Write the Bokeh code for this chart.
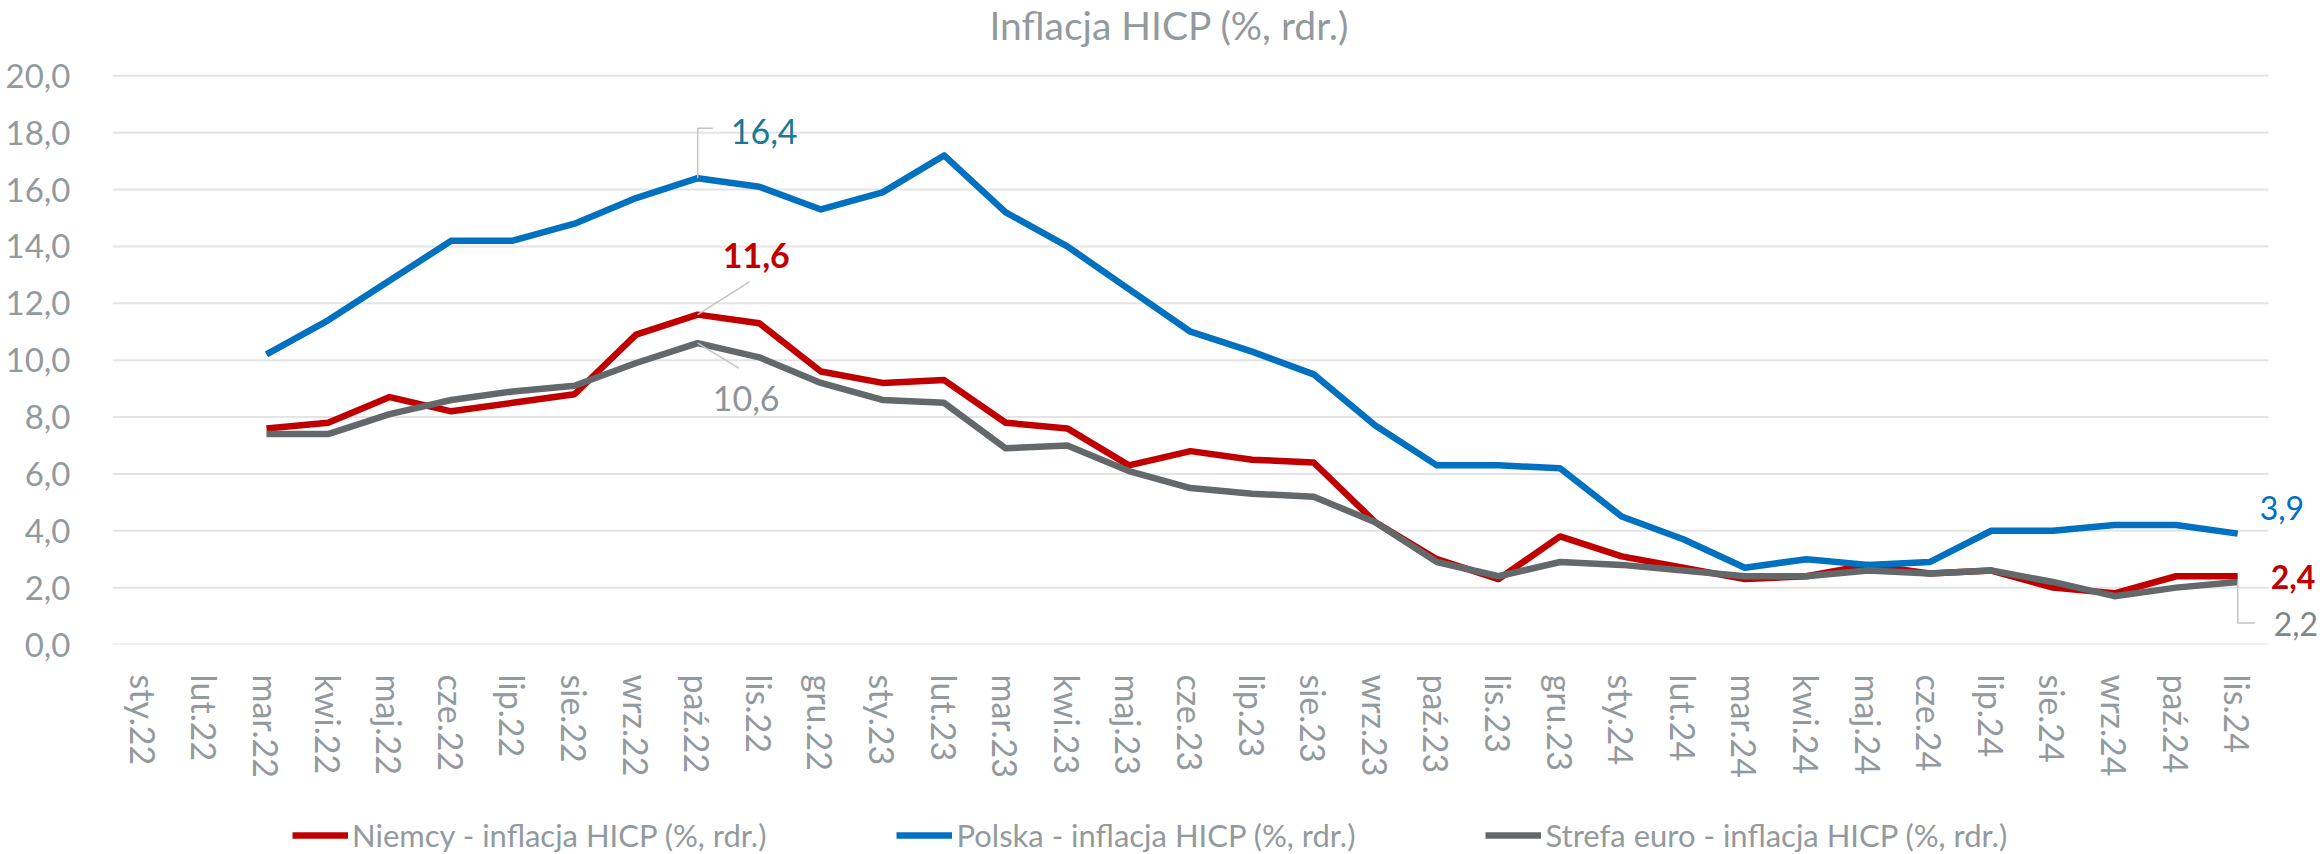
from bokeh.plotting import figure
from bokeh.layouts import column
from bokeh.models import Legend, LegendItem, Label, FixedTicker, Range1d
from bokeh.embed import file_html
from bokeh.resources import INLINE

months = ["sty.22", "lut.22", "mar.22", "kwi.22", "maj.22", "cze.22", "lip.22", "sie.22",
          "wrz.22", "paź.22", "lis.22", "gru.22", "sty.23", "lut.23", "mar.23", "kwi.23",
          "maj.23", "cze.23", "lip.23", "sie.23", "wrz.23", "paź.23", "lis.23", "gru.23",
          "sty.24", "lut.24", "mar.24", "kwi.24", "maj.24", "cze.24", "lip.24", "sie.24",
          "wrz.24", "paź.24", "lis.24"]

niemcy = [None, None, 7.6, 7.8, 8.7, 8.2, 8.5, 8.8, 10.9, 11.6, 11.3, 9.6, 9.2, 9.3, 7.8, 7.6,
          6.3, 6.8, 6.5, 6.4, 4.3, 3.0, 2.3, 3.8, 3.1, 2.7, 2.3, 2.4, 2.8, 2.5, 2.6, 2.0,
          1.8, 2.4, 2.4]
polska = [None, None, 10.2, 11.4, 12.8, 14.2, 14.2, 14.8, 15.7, 16.4, 16.1, 15.3, 15.9, 17.2, 15.2, 14.0,
          12.5, 11.0, 10.3, 9.5, 7.7, 6.3, 6.3, 6.2, 4.5, 3.7, 2.7, 3.0, 2.8, 2.9, 4.0, 4.0,
          4.2, 4.2, 3.9]
strefa = [None, None, 7.4, 7.4, 8.1, 8.6, 8.9, 9.1, 9.9, 10.6, 10.1, 9.2, 8.6, 8.5, 6.9, 7.0,
          6.1, 5.5, 5.3, 5.2, 4.3, 2.9, 2.4, 2.9, 2.8, 2.6, 2.4, 2.4, 2.6, 2.5, 2.6, 2.2,
          1.7, 2.0, 2.2]

series_names = ["Niemcy - inflacja HICP (%, rdr.)",
                "Polska - inflacja HICP (%, rdr.)",
                "Strefa euro - inflacja HICP (%, rdr.)"]

y_ticks = [0, 2, 4, 6, 8, 10, 12, 14, 16, 18, 20]
y_tick_labels = ["0,0", "2,0", "4,0", "6,0", "8,0", "10,0", "12,0", "14,0", "16,0", "18,0", "20,0"]

title_text = "Inflacja HICP (%, rdr.)"

RED = "#C00000"
BLUE = "#0070C0"
GRAY = "#63686B"
TXT = "#939A9E"
FONT = "Lato"
LW = 6.5

def nanify(v):
    return [float("nan") if a is None else a for a in v]

def fmt(v):
    return f"{v:.1f}".replace(".", ",")

n = len(months)
xs = list(range(n))

W = 2323
H_MAIN, H_LEG = 810, 44
ML = 112
FRAME_BOTTOM = 644            # px from figure top to the 0,0 gridline
PLOT_TOP = 75.3               # px from figure top to the 20,0 gridline
MB = H_MAIN - FRAME_BOTTOM
sx = 2156 / n                 # px per category
sy = (FRAME_BOTTOM - PLOT_TOP) / 20.0
x_end = -0.5 + (W - ML) / sx
y_end = FRAME_BOTTOM / sy

p = figure(width=W, height=H_MAIN, output_backend="svg", toolbar_location=None,
           x_range=Range1d(-0.5, x_end), y_range=Range1d(0, y_end),
           min_border_left=ML, min_border_right=0, min_border_top=0, min_border_bottom=MB)
p.outline_line_color = None
p.background_fill_color = "white"
p.border_fill_color = "white"

# axes
p.xaxis.ticker = FixedTicker(ticks=xs)
p.xaxis.major_label_overrides = {i: m for i, m in enumerate(months)}
p.xaxis.major_label_orientation = "vertical"
p.xaxis.axis_line_color = None
p.xaxis.major_tick_line_color = None
p.xaxis.minor_tick_line_color = None
p.xaxis.major_label_standoff = 24
p.xaxis.major_label_text_font = FONT
p.xaxis.major_label_text_font_size = "34px"
p.xaxis.major_label_text_color = TXT

p.yaxis.ticker = FixedTicker(ticks=y_ticks)
p.yaxis.major_label_overrides = {t: l for t, l in zip(y_ticks, y_tick_labels)}
p.yaxis.axis_line_color = None
p.yaxis.major_tick_line_color = None
p.yaxis.minor_tick_line_color = None
p.yaxis.major_label_standoff = 36
p.yaxis.major_label_text_font = FONT
p.yaxis.major_label_text_font_size = "33px"
p.yaxis.major_label_text_color = TXT

p.xgrid.grid_line_color = None
p.ygrid.grid_line_color = None

# horizontal gridlines at the tick values, spanning the category area
p.segment(x0=[-0.5] * len(y_ticks), x1=[n - 0.5] * len(y_ticks), y0=y_ticks, y1=y_ticks,
          line_color="#E4E4E4", line_width=2)

# series lines
r_de = p.line(xs, nanify(niemcy), line_color=RED, line_width=LW, line_join="round")
r_pl = p.line(xs, nanify(polska), line_color=BLUE, line_width=LW, line_join="round")
r_ea = p.line(xs, nanify(strefa), line_color=GRAY, line_width=LW, line_join="round")

# leader lines (data point + pixel offsets)
LC = "#C4C4C4"
i_pk = 9
i_last = n - 1
p.line([i_pk, i_pk, i_pk + 15 / sx],
       [polska[i_pk], polska[i_pk] + 50 / sy, polska[i_pk] + 50 / sy],
       line_color=LC, line_width=1.5)
p.line([i_pk, i_pk + 52 / sx], [niemcy[i_pk], niemcy[i_pk] + 33 / sy],
       line_color=LC, line_width=1.5)
p.line([i_pk, i_pk + 41 / sx], [strefa[i_pk], strefa[i_pk] - 25 / sy],
       line_color=LC, line_width=1.5)
p.line([i_last, i_last, i_last + 17 / sx],
       [strefa[i_last], strefa[i_last] - 41 / sy, strefa[i_last] - 41 / sy],
       line_color=LC, line_width=1.5)

def add_label(x, y, text, color, dx, dy, bold=False, size="34px"):
    p.add_layout(Label(x=x, y=y, text=text, x_offset=dx, y_offset=dy,
                       text_align="left", text_baseline="middle",
                       text_color=color, text_font=FONT, text_font_size=size,
                       text_font_style="bold" if bold else "normal"))

add_label(i_pk, polska[i_pk], fmt(polska[i_pk]), "#1B7896", 33, 47)
add_label(i_pk, niemcy[i_pk], fmt(niemcy[i_pk]), RED, 25, 59, bold=True)
add_label(i_pk, strefa[i_pk], fmt(strefa[i_pk]), "#8E9598", 15, -55)
add_label(i_last, polska[i_last], fmt(polska[i_last]), BLUE, 22, 26, size="32px")
add_label(i_last, niemcy[i_last], fmt(niemcy[i_last]), RED, 33, -1, bold=True, size="32px")
add_label(i_last, strefa[i_last], fmt(strefa[i_last]), "#80878B", 36, -42, size="32px")

# title
p.add_layout(Label(x=-0.5 + (1169 - ML) / sx, y=20, y_offset=51, text=title_text,
                   text_align="center", text_baseline="middle",
                   text_color=TXT, text_font=FONT, text_font_size="39px"))

# legend strip below the chart (its renderers repeat the series, out of view)
lf = figure(width=W, height=H_LEG, output_backend="svg", toolbar_location=None,
            x_range=Range1d(-1000, -999), y_range=Range1d(0, 1),
            x_axis_type=None, y_axis_type=None,
            min_border_left=0, min_border_right=0, min_border_top=0, min_border_bottom=0)
lf.outline_line_color = None
lf.xgrid.visible = False
lf.ygrid.visible = False
lr_de = lf.line(xs, nanify(niemcy), line_color=RED, line_width=LW)
lr_pl = lf.line(xs, nanify(polska), line_color=BLUE, line_width=LW)
lr_ea = lf.line(xs, nanify(strefa), line_color=GRAY, line_width=LW)
legend = Legend(items=[LegendItem(label=series_names[0], renderers=[lr_de]),
                       LegendItem(label=series_names[1], renderers=[lr_pl]),
                       LegendItem(label=series_names[2], renderers=[lr_ea])],
                orientation="horizontal", location=(180, 0),
                glyph_width=56, glyph_height=30, label_height=30, label_standoff=4,
                spacing=130, padding=0, margin=0,
                border_line_color=None, background_fill_alpha=0,
                label_text_font=FONT, label_text_font_size="31px", label_text_color=TXT)
lf.add_layout(legend, "center")

layout = column(p, lf, spacing=0)
open("out.html", "w").write(file_html(layout, INLINE))
